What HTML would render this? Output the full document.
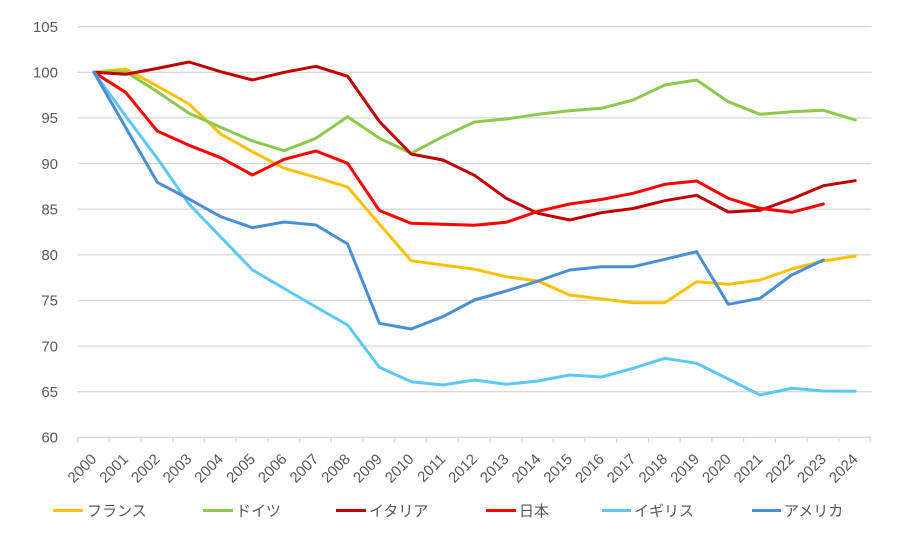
<!DOCTYPE html>
<html><head><meta charset="utf-8"><style>
html,body{margin:0;padding:0;background:#fff;}
svg{display:block;}
text{font-family:"Liberation Sans","Noto Sans CJK JP",sans-serif;fill:#595959;}
</style></head><body>
<svg width="900" height="534" viewBox="0 0 900 534" xmlns="http://www.w3.org/2000/svg">
<rect width="900" height="534" fill="#fff"/>
<g stroke="#d9d9d9" stroke-width="1.3">
<line x1="77.5" y1="26.7" x2="871.5" y2="26.7"/>
<line x1="77.5" y1="72.3" x2="871.5" y2="72.3"/>
<line x1="77.5" y1="117.9" x2="871.5" y2="117.9"/>
<line x1="77.5" y1="163.6" x2="871.5" y2="163.6"/>
<line x1="77.5" y1="209.2" x2="871.5" y2="209.2"/>
<line x1="77.5" y1="254.8" x2="871.5" y2="254.8"/>
<line x1="77.5" y1="300.4" x2="871.5" y2="300.4"/>
<line x1="77.5" y1="346.1" x2="871.5" y2="346.1"/>
<line x1="77.5" y1="391.7" x2="871.5" y2="391.7"/>
<line x1="77.5" y1="437.3" x2="871.5" y2="437.3"/>
</g>
<g stroke="#d9d9d9" stroke-width="1.3" id="ticks"></g>
<g font-size="15" text-anchor="end">
<text x="58" y="32">105</text>
<text x="58" y="77.6">100</text>
<text x="58" y="123.2">95</text>
<text x="58" y="168.9">90</text>
<text x="58" y="214.5">85</text>
<text x="58" y="260.1">80</text>
<text x="58" y="305.7">75</text>
<text x="58" y="351.4">70</text>
<text x="58" y="397">65</text>
<text x="58" y="442.6">60</text>
</g>
<g font-size="15" text-anchor="end" id="xl"></g>
<g fill="none" stroke-width="3" stroke-linejoin="round" stroke-linecap="round">
<polyline stroke="#FFC000" points="93.9,72.3 125.6,69 157.3,86 189.0,104 220.7,134 252.5,151.7 284.2,168.3 315.9,177.3 347.6,187 379.4,224 411.1,260.7 442.8,265 474.5,269.2 506.2,276.7 538.0,281 569.7,295 601.4,299 633.1,302.7 664.8,302.7 696.6,281.7 728.3,284.3 760.0,280 791.7,269 823.4,261 855.2,256"/>
<polyline stroke="#8DC94E" points="93.9,72.3 125.6,71.7 157.3,91.7 189.0,113.3 220.7,127.3 252.5,141 284.2,150.7 315.9,138.3 347.6,116.7 379.4,138.3 411.1,153.3 442.8,136.7 474.5,122 506.2,119 538.0,114.3 569.7,110.7 601.4,108.3 633.1,100 664.8,85 696.6,80 728.3,101.7 760.0,114.3 791.7,111.7 823.4,110.3 855.2,120"/>
<polyline stroke="#C00000" points="93.9,72.3 125.6,74.3 157.3,68.4 189.0,62 220.7,71.7 252.5,80 284.2,72.3 315.9,66.3 347.6,76.3 379.4,121.5 411.1,154 442.8,160 474.5,175.3 506.2,198.3 538.0,213.3 569.7,220 601.4,212.7 633.1,208.5 664.8,200.7 696.6,195.3 728.3,212 760.0,210.3 791.7,199 823.4,185.7 855.2,180.7"/>
<polyline stroke="#FF0000" points="93.9,72.3 125.6,92.3 157.3,131 189.0,145.3 220.7,157.7 252.5,175 284.2,159.3 315.9,151 347.6,163.3 379.4,210.5 411.1,223.3 442.8,224.3 474.5,225.3 506.2,222.3 538.0,211.3 569.7,204 601.4,199.5 633.1,193.3 664.8,184.3 696.6,181 728.3,198.3 760.0,208.3 791.7,212.3 823.4,204"/>
<polyline stroke="#5BC8F5" points="93.9,72.3 125.6,116 157.3,158.3 189.0,204 220.7,237 252.5,270 284.2,288.5 315.9,307 347.6,325 379.4,367.3 411.1,381.7 442.8,385 474.5,380 506.2,384.3 538.0,381 569.7,375 601.4,377 633.1,368.3 664.8,358.3 696.6,363.3 728.3,379 760.0,395 791.7,388.3 823.4,391 855.2,391.3"/>
<polyline stroke="#4A8FD6" points="93.9,72.3 125.6,127.3 157.3,182.3 189.0,199 220.7,216.7 252.5,227.7 284.2,222 315.9,225 347.6,244 379.4,323.3 411.1,329 442.8,316.7 474.5,300 506.2,291 538.0,281 569.7,270 601.4,266.7 633.1,266.7 664.8,259.3 696.6,251.7 728.3,304.3 760.0,298.3 791.7,275 823.4,260"/>
</g>
<g stroke-width="3">
<line x1="53" y1="510.5" x2="83" y2="510.5" stroke="#FFC000"/>
<line x1="203" y1="510.5" x2="233" y2="510.5" stroke="#8DC94E"/>
<line x1="336" y1="510.5" x2="366" y2="510.5" stroke="#C00000"/>
<line x1="486" y1="510.5" x2="516" y2="510.5" stroke="#FF0000"/>
<line x1="602" y1="510.5" x2="631" y2="510.5" stroke="#5BC8F5"/>
<line x1="752" y1="510.5" x2="781" y2="510.5" stroke="#4A8FD6"/>
</g>
<g font-size="15">
<text x="87" y="516">フランス</text>
<text x="236" y="516">ドイツ</text>
<text x="369" y="516">イタリア</text>
<text x="519" y="516">日本</text>
<text x="634" y="516">イギリス</text>
<text x="784" y="516">アメリカ</text>
</g>
<g stroke="#d9d9d9" stroke-width="1.3">
<line x1="77.5" y1="437.3" x2="77.5" y2="442.5"/>
<line x1="109.2" y1="437.3" x2="109.2" y2="442.5"/>
<line x1="140.9" y1="437.3" x2="140.9" y2="442.5"/>
<line x1="172.7" y1="437.3" x2="172.7" y2="442.5"/>
<line x1="204.4" y1="437.3" x2="204.4" y2="442.5"/>
<line x1="236.1" y1="437.3" x2="236.1" y2="442.5"/>
<line x1="267.8" y1="437.3" x2="267.8" y2="442.5"/>
<line x1="299.5" y1="437.3" x2="299.5" y2="442.5"/>
<line x1="331.3" y1="437.3" x2="331.3" y2="442.5"/>
<line x1="363.0" y1="437.3" x2="363.0" y2="442.5"/>
<line x1="394.7" y1="437.3" x2="394.7" y2="442.5"/>
<line x1="426.4" y1="437.3" x2="426.4" y2="442.5"/>
<line x1="458.1" y1="437.3" x2="458.1" y2="442.5"/>
<line x1="489.9" y1="437.3" x2="489.9" y2="442.5"/>
<line x1="521.6" y1="437.3" x2="521.6" y2="442.5"/>
<line x1="553.3" y1="437.3" x2="553.3" y2="442.5"/>
<line x1="585.0" y1="437.3" x2="585.0" y2="442.5"/>
<line x1="616.7" y1="437.3" x2="616.7" y2="442.5"/>
<line x1="648.5" y1="437.3" x2="648.5" y2="442.5"/>
<line x1="680.2" y1="437.3" x2="680.2" y2="442.5"/>
<line x1="711.9" y1="437.3" x2="711.9" y2="442.5"/>
<line x1="743.6" y1="437.3" x2="743.6" y2="442.5"/>
<line x1="775.3" y1="437.3" x2="775.3" y2="442.5"/>
<line x1="807.1" y1="437.3" x2="807.1" y2="442.5"/>
<line x1="838.8" y1="437.3" x2="838.8" y2="442.5"/>
<line x1="870.5" y1="437.3" x2="870.5" y2="442.5"/>
</g>
<g font-size="15" text-anchor="end">
<text transform="translate(97.4,460) rotate(-45)">2000</text>
<text transform="translate(129.1,460) rotate(-45)">2001</text>
<text transform="translate(160.8,460) rotate(-45)">2002</text>
<text transform="translate(192.5,460) rotate(-45)">2003</text>
<text transform="translate(224.2,460) rotate(-45)">2004</text>
<text transform="translate(256.0,460) rotate(-45)">2005</text>
<text transform="translate(287.7,460) rotate(-45)">2006</text>
<text transform="translate(319.4,460) rotate(-45)">2007</text>
<text transform="translate(351.1,460) rotate(-45)">2008</text>
<text transform="translate(382.9,460) rotate(-45)">2009</text>
<text transform="translate(414.6,460) rotate(-45)">2010</text>
<text transform="translate(446.3,460) rotate(-45)">2011</text>
<text transform="translate(478.0,460) rotate(-45)">2012</text>
<text transform="translate(509.7,460) rotate(-45)">2013</text>
<text transform="translate(541.5,460) rotate(-45)">2014</text>
<text transform="translate(573.2,460) rotate(-45)">2015</text>
<text transform="translate(604.9,460) rotate(-45)">2016</text>
<text transform="translate(636.6,460) rotate(-45)">2017</text>
<text transform="translate(668.3,460) rotate(-45)">2018</text>
<text transform="translate(700.1,460) rotate(-45)">2019</text>
<text transform="translate(731.8,460) rotate(-45)">2020</text>
<text transform="translate(763.5,460) rotate(-45)">2021</text>
<text transform="translate(795.2,460) rotate(-45)">2022</text>
<text transform="translate(826.9,460) rotate(-45)">2023</text>
<text transform="translate(858.7,460) rotate(-45)">2024</text>
</g>
</svg>
</body></html>
